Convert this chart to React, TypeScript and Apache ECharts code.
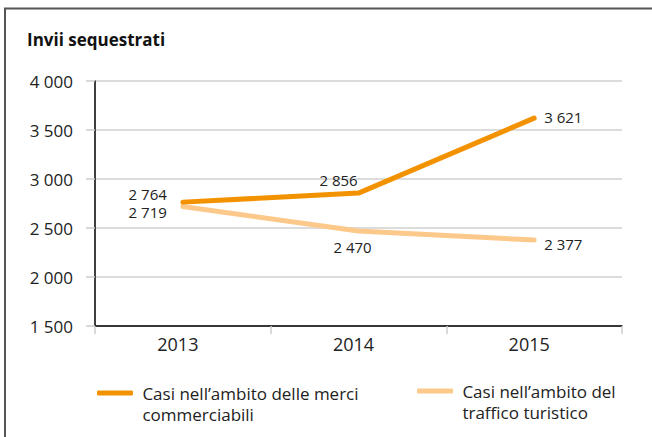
import React, { useEffect, useRef } from "react";
import * as echarts from "echarts";

const years = ["2013", "2014", "2015"];
const merciName = "Casi nell’ambito delle merci\ncommerciabili";
const turismoName = "Casi nell’ambito del\ntraffico turistico";
const merci = [2764, 2856, 3621];
const turismo = [2719, 2470, 2377];
const yTicks = { min: 1500, max: 4000, interval: 500 };

const FONT = "Open Sans";
const fmt = (v: number) => String(v).replace(/\B(?=(\d{3})+(?!\d))/g, " ");

const merciLabels = [
  { position: "left", distance: 16, offset: [0, -8] },
  { position: "top", distance: 5, offset: [-20, 0] },
  { position: "right", distance: 10, offset: [0, -1] },
];
const turismoLabels = [
  { position: "left", distance: 16, offset: [0, 5] },
  { position: "bottom", distance: 5, offset: [-6, 3] },
  { position: "right", distance: 10, offset: [0, 4] },
];

export default function App() {
  const ref = useRef<HTMLDivElement>(null);
  useEffect(() => {
    document.body.style.margin = "0";
    const chart = echarts.init(ref.current!, null, { renderer: "svg" });
    const labelBase = {
      show: true,
      color: "#222",
      fontSize: 15,
      lineHeight: 16,
      fontFamily: FONT,
      formatter: (p: any) => fmt(p.value),
    };
    const legendFormatter = (name: string) =>
      "\n" + name.split("\n").map((s) => " " + s).join("\n");
    const legendBase = {
      icon: "roundRect",
      itemWidth: 36,
      itemHeight: 5,
      itemGap: 0,
      padding: 0,
      formatter: legendFormatter,
      textStyle: { fontSize: 17, fontFamily: FONT, color: "#222", lineHeight: 21 },
    };
    chart.setOption({
      animation: false,
      backgroundColor: "#fff",
      title: {
        text: "Invii sequestrati",
        left: 27,
        top: 31,
        padding: 0,
        textStyle: { fontSize: 17, fontWeight: "bold", color: "#111", fontFamily: FONT },
      },
      graphic: [
        {
          type: "rect",
          shape: { x: 5, y: 8.5, width: 800, height: 600 },
          style: { fill: "none", stroke: "#555", lineWidth: 2 },
          silent: true,
        },
      ],
      grid: { left: 95, right: 30, top: 81, bottom: 111 },
      xAxis: {
        type: "category",
        data: years,
        boundaryGap: true,
        axisLine: { lineStyle: { color: "#000", width: 1.5 } },
        axisTick: { show: true, length: 8, lineStyle: { color: "#ccc", width: 1.5 } },
        axisLabel: {
          color: "#222",
          fontSize: 18,
          fontFamily: FONT,
          margin: 9,
          padding: [0, 10, 0, 0],
        },
      },
      yAxis: {
        type: "value",
        min: yTicks.min,
        max: yTicks.max,
        interval: yTicks.interval,
        axisLine: { show: true, lineStyle: { color: "#000", width: 1.5 } },
        axisTick: { show: true, length: 9, lineStyle: { color: "#ccc", width: 1.5 } },
        splitLine: { lineStyle: { color: "#d0d0d0", width: 1.5 } },
        axisLabel: {
          color: "#222",
          fontSize: 17,
          fontFamily: FONT,
          margin: 22,
          formatter: (v: number) => fmt(v),
        },
      },
      legend: [
        { ...legendBase, data: [merciName], left: 97, top: 361.5 },
        { ...legendBase, data: [turismoName], left: 417, top: 359.5 },
      ],
      series: [
        {
          name: turismoName,
          type: "line",
          z: 2,
          symbol: "circle",
          symbolSize: 0.1,
          color: "#FDC98B",
          lineStyle: { width: 5, color: "#FDC98B", cap: "round", join: "round" },
          data: turismo.map((v, i) => ({ value: v, label: { ...labelBase, ...turismoLabels[i] } })),
        },
        {
          name: merciName,
          type: "line",
          z: 3,
          symbol: "circle",
          symbolSize: 0.1,
          color: "#F39200",
          lineStyle: { width: 5, color: "#F39200", cap: "round", join: "round" },
          data: merci.map((v, i) => ({ value: v, label: { ...labelBase, ...merciLabels[i] } })),
        },
      ],
    });
    return () => chart.dispose();
  }, []);
  return <div ref={ref} style={{ width: 652, height: 437 }} />;
}
